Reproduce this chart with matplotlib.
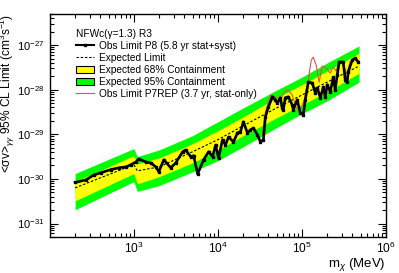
import numpy as np
import matplotlib.pyplot as plt
from matplotlib.lines import Line2D
from matplotlib.patches import Patch
from matplotlib.ticker import NullFormatter

plt.rcParams['font.family'] = ['Liberation Sans', 'DejaVu Sans']
plt.rcParams['mathtext.fontset'] = 'custom'
plt.rcParams['mathtext.rm'] = 'Liberation Sans'
plt.rcParams['mathtext.it'] = 'Liberation Sans:italic'
plt.rcParams['mathtext.sf'] = 'Liberation Sans'

#==============================================
# data (mass in MeV, limits as log10 of <sv>)
#==============================================
band_mass = [200, 1000, 1100, 2000, 5000, 1e4, 2e4, 5e4, 1e5, 2e5, 4.8e5]
exp_log = [-30.20, -29.68, -29.82, -29.73, -29.39, -29.12, -28.81, -28.41, -28.12, -27.83, -27.47]
y68_hi = [-30.06, -29.48, -29.66, -29.53, -29.21, -28.92, -28.61, -28.18, -27.89, -27.58, -27.18]
y68_lo = [-30.49, -29.88, -30.11, -29.95, -29.64, -29.35, -29.03, -28.63, -28.34, -28.05, -27.63]
g95_hi = [-29.88, -29.32, -29.50, -29.35, -29.03, -28.72, -28.41, -28.01, -27.72, -27.40, -27.02]
g95_lo = [-30.69, -30.06, -30.28, -30.15, -29.84, -29.59, -29.28, -28.85, -28.54, -28.25, -27.83]

p8_mass = [200, 270, 335, 406, 534, 664, 804, 921, 1056, 1146, 1388, 1592, 1824, 1982,
           2271, 2750, 3150, 3812, 4138, 4745, 5150, 5740, 6766, 7760, 8654, 9395, 10190,
           11370, 12330, 13390, 15350, 17110, 18580, 20170, 22500, 24430, 26510, 29570,
           32120, 34860, 36820, 39940, 44550, 48390, 51070, 55440, 58580, 60150, 63540,
           69000, 76950, 79060, 88180, 95750, 104000, 109900, 119300, 133200, 144600,
           152800, 165900, 180100, 190200, 200600, 217900, 236600, 249700, 263600,
           278600, 311000, 328300, 346800, 356500, 397500, 431700, 469000]
p8_log = [-30.08, -30.02, -29.91, -29.86, -29.79, -29.75, -29.73, -29.68, -29.62, -29.55,
          -29.62, -29.64, -29.73, -29.84, -29.57, -29.75, -29.64, -29.39, -29.35, -29.50,
          -29.48, -29.89, -29.57, -29.39, -29.50, -29.24, -29.53, -29.12, -29.24, -29.06,
          -29.17, -28.97, -28.94, -28.72, -28.97, -28.90, -28.86, -29.01, -29.17, -29.12,
          -28.61, -28.39, -28.16, -28.23, -28.30, -28.18, -28.41, -28.45, -28.18, -28.16,
          -28.34, -28.45, -28.23, -28.52, -28.56, -28.23, -27.83, -27.85, -28.07, -27.96,
          -28.18, -27.94, -28.16, -27.89, -28.05, -27.72, -28.01, -27.67, -27.38, -27.38,
          -27.78, -27.83, -27.60, -27.34, -27.29, -27.38]

p7_mass = [33900, 36800, 42200, 48300, 55400, 61800, 69000, 76900, 85900, 95800, 106800,
           119100, 129400, 136600, 148300, 160800, 174600, 194700, 217100, 235600, 255700,
           277400, 309400, 345100, 374800]
p7_log = [-29.01, -28.50, -28.12, -28.16, -28.23, -28.05, -28.01, -28.12, -28.41, -28.45,
          -28.23, -27.78, -27.34, -27.27, -27.45, -27.83, -27.47, -27.51, -27.63, -27.49,
          -27.58, -27.40, -27.42, -27.65, -27.38]

x_ticks = [1e3, 1e4, 1e5, 1e6]
x_ticklabels = ['$10^{3}$', '$10^{4}$', '$10^{5}$', '$10^{6}$']

def lin(v):
    return 10.0 ** np.array(v)

#==============================================
# plot
#==============================================
fig = plt.figure(figsize=(3.99, 2.73), dpi=100)
ax = fig.add_axes([0.125, 0.132, 0.842, 0.817])

ax.fill_between(band_mass, lin(g95_lo), lin(g95_hi), color='#00ff00', lw=0)
ax.fill_between(band_mass, lin(y68_lo), lin(y68_hi), color='#ffff00', lw=0)
ax.plot(band_mass, lin(exp_log), color='black', lw=0.8, dashes=(2.2, 1.6))
ax.plot(p7_mass, lin(p7_log), color='#e4504f', lw=0.8)
ax.plot(p8_mass, lin(p8_log), color='black', lw=1.9, marker='s', ms=1.8)

ax.set_xscale('log')
ax.set_yscale('log')
ax.set_xlim(100, 1e6)
ax.set_ylim(5e-32, 5e-27)
ax.set_xticks(x_ticks)
ax.set_xticklabels(x_ticklabels)
ax.xaxis.set_minor_formatter(NullFormatter())
ax.yaxis.set_minor_formatter(NullFormatter())

ax.tick_params(which='both', direction='in', top=True, right=True, width=0.8)
ax.tick_params(which='major', length=5.5)
ax.tick_params(which='minor', length=3)
ax.tick_params(axis='x', pad=3, labelsize=8.6)
ax.tick_params(axis='y', pad=4, labelsize=8)
for s in ax.spines.values():
    s.set_linewidth(1.0)

ax.set_xlabel(r'm$_{\chi}$ (MeV)', fontsize=9.5, loc='right', labelpad=0)
ax.set_ylabel('<σv>$_{\\gamma\\gamma}$ 95% CL Limit (cm$^{3}$s$^{-1}$)', fontsize=8.6, loc='top')
ax.yaxis.set_label_coords(-0.097, 1.0)

handles = [
    Line2D([], [], color='black', lw=1.5, marker='s', ms=1.5),
    Line2D([], [], color='black', lw=0.8, dashes=(2.2, 1.6)),
    Patch(facecolor='#ffff00', edgecolor='black', lw=0.8),
    Patch(facecolor='#00ff00', edgecolor='black', lw=0.8),
    Line2D([], [], color='#e4504f', lw=0.8),
]
labels = ['Obs Limit P8 (5.8 yr stat+syst)', 'Expected Limit',
          'Expected 68% Containment', 'Expected 95% Containment',
          'Obs Limit P7REP (3.7 yr, stat-only)']
leg = ax.legend(handles, labels, loc='upper left', bbox_to_anchor=(0.058, 0.965),
                frameon=False, fontsize=7.3, title='NFWc(γ=1.3) R3', title_fontsize=7.3,
                alignment='left', handlelength=1.7, handleheight=0.8, labelspacing=0.2,
                handletextpad=0.5, borderpad=0.2)

fig.savefig('out.png', dpi=100)
